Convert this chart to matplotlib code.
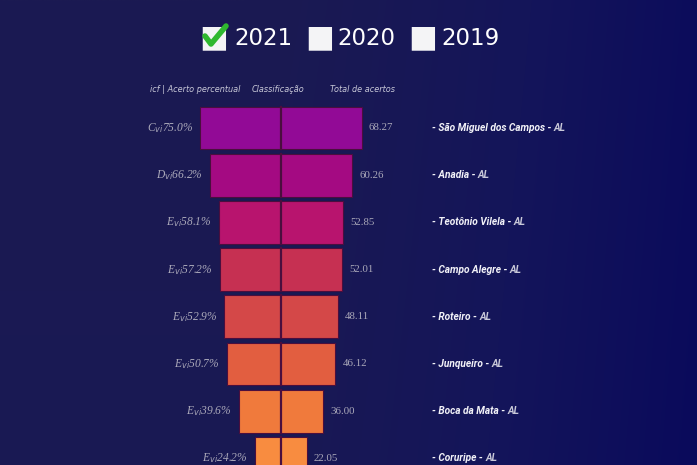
import numpy as np
import matplotlib
matplotlib.use("Agg")
import matplotlib.pyplot as plt
from matplotlib.colors import LinearSegmentedColormap
from matplotlib.lines import Line2D

# ---- data ----
cities = ["São Miguel dos Campos", "Anadia", "Teotônio Vilela", "Campo Alegre",
          "Roteiro", "Junqueiro", "Boca da Mata", "Coruripe"]
grades = ["C", "D", "E", "E", "E", "E", "E", "E"]
percent = [75.0, 66.2, 58.1, 57.2, 52.9, 50.7, 39.6, 24.2]
totals = [68.27, 60.26, 52.85, 52.01, 48.11, 46.12, 36.00, 22.05]
state = "AL"
years = ["2021", "2020", "2019"]
headers = ["icf | Acerto percentual", "Classificação", "Total de acertos"]
bar_colors = ["#920A96", "#A40A82", "#B8146E", "#C63052",
              "#D44848", "#E25E40", "#F07A3C", "#F88C40"]

W, H = 697, 465
fig = plt.figure(figsize=(W / 100, H / 100), dpi=100)

# background gradient
bg = fig.add_axes([0, 0, 1, 1])
bg.set_axis_off()
xx = np.linspace(0, 1, 600)
yy = np.linspace(0, 1, 300)
X, Y = np.meshgrid(xx, yy)
val = np.clip((X - 0.35) / 0.65, 0, 1) ** 1.3 * 0.9 + 0.1 * Y
cmap = LinearSegmentedColormap.from_list("bgc", ["#1B1A52", "#14155A", "#0A0A5C"], N=1024)
bg.imshow(val, cmap=cmap, aspect="auto", extent=[0, 1, 0, 1], vmin=0, vmax=1,
          interpolation="bicubic")
bg.set_xlim(0, 1)
bg.set_ylim(0, 1)

# main axes mapped to pixel geometry
ax = fig.add_axes([0, 0, 1, 1])
ax.set_axis_off()
ax.patch.set_alpha(0)
cx = 281.0
sc = 1.18
row0 = 128.0
dy = 47.2
ax.set_xlim((0 - cx) / sc, (W - cx) / sc)
ax.set_ylim((H - row0) / dy, (0 - row0) / dy)

ypos = np.arange(len(cities))
tot = np.array(totals)
ax.barh(ypos, 2 * tot, left=-tot, height=0.91, color=bar_colors,
        edgecolor="#4A0E3E", linewidth=0.8, zorder=2)
for i in ypos:
    ax.plot([0, 0], [i - 0.455, i + 0.455], color="#4A0E3E", lw=1.6, zorder=3)

num_color = "#ABA9BA"
px = 1 / sc
for i in ypos:
    ax.text(-tot[i] - 7 * px, i,
            r"$\mathregular{%s_{\it{vi}}}$%.1f%%" % (grades[i], percent[i]),
            ha="right", va="center", color=num_color, fontsize=8.3,
            family="Liberation Serif", style="italic")
    ax.text(tot[i] + 7 * px, i, "%.2f" % totals[i], ha="left", va="center",
            color=num_color, fontsize=7.8, family="Liberation Serif")
    xl = (432 - cx) / sc
    t = ax.text(xl, i, "- %s - " % cities[i], ha="left", va="center",
                color="#F2F2F8", fontsize=7.3, fontweight="bold", style="italic",
                family="Roboto")
    ax.annotate(state, xycoords=t, xy=(1, 0.5), va="center", ha="left",
                color="#C8C8D8", fontsize=7.3, fontweight="bold", style="italic",
                family="Roboto")

# header labels
hy = (90 - row0) / dy
for txt, xp in zip(headers, [150, 252, 330]):
    ax.text((xp - cx) / sc, hy, txt, ha="left", va="center", color="#C8C8D8",
            fontsize=5.9, style="italic", family="DejaVu Sans")

# year selector title
ty = 1 - 38 / H
for k, (yr, bx, tx) in enumerate(zip(years, [214, 320, 423], [234, 337, 441])):
    fig.text(bx / W, ty, "■", ha="center", va="center", color="#F4F4F6",
             fontsize=22, family="DejaVu Sans", zorder=5)
    if k == 0:
        fig.add_artist(Line2D([(bx - 9) / W, (bx - 3) / W, (bx + 12) / W],
                              [1 - 36 / H, 1 - 44 / H, 1 - 26 / H],
                              color="#2FB82F", lw=4, solid_capstyle="round",
                              solid_joinstyle="round", zorder=20))
    fig.text(tx / W, ty, yr, ha="left", va="center", color="white",
             fontsize=16.5, family="DejaVu Sans", zorder=5)

fig.savefig("out.png", dpi=100, facecolor="#1A1850")
